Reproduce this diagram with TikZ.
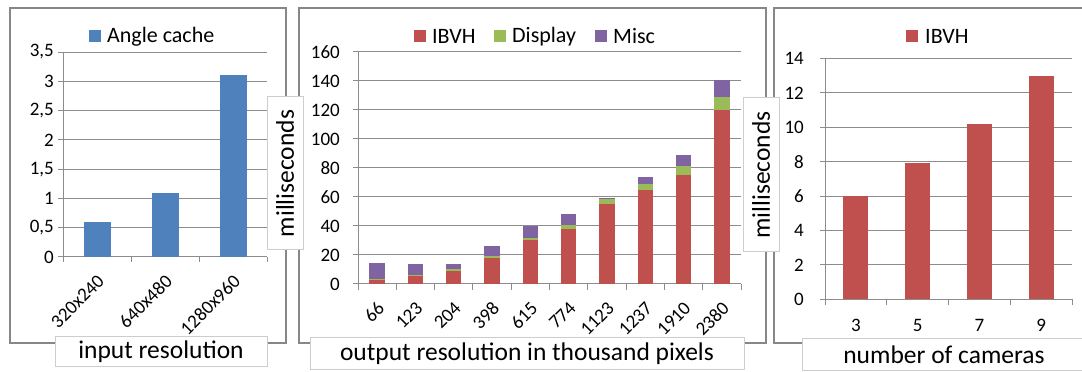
\documentclass[tikz,border=0pt]{standalone}
\usepackage{fontspec}
\setmainfont{Carlito}
\definecolor{angleblue}{RGB}{79,129,189}
\definecolor{ibvhred}{RGB}{192,80,77}
\definecolor{dispgreen}{RGB}{155,187,89}
\definecolor{miscpurple}{RGB}{128,100,162}
\definecolor{gridgray}{RGB}{140,140,140}
\definecolor{framegray}{RGB}{135,135,135}
\definecolor{boxgray}{RGB}{205,205,205}
\tikzset{
  gridline/.style={gridgray, line width=1pt},
  ticklab/.style={font=\fontsize{19}{19}\selectfont, inner sep=0pt},
  leglab/.style={font=\fontsize{22}{22}\selectfont, anchor=west, inner sep=0pt},
  key/.style={minimum size=12pt, inner sep=0pt},
  titlebox/.style={draw=boxgray, line width=1pt, fill=white, font=\fontsize{25.5}{25.5}\selectfont, inner sep=0pt},
}

\begin{document}
\begin{tikzpicture}[x=1pt,y=1pt]
\clip (0,0) rectangle (1082,372);
\fill [white] (0,0) rectangle (1082,372);
\draw [framegray, line width=1.2pt] (10,29) rectangle (286,364);
\draw [framegray, line width=1.2pt] (299,29) rectangle (766,364);
\draw [framegray, line width=1.2pt] (774,29) rectangle (1100,364);

\foreach \v/\t [count=\k] in {0/0,0.5/{0,5},1/1,1.5/{1,5},2/2,2.5/{2,5},3/3,3.5/{3,5}} {
  \draw [gridline] (58,115+58.57*\v) -- (267,115+58.57*\v);
  \node [ticklab, anchor=east] (lefty\k) at (54,115+58.57*\v) {\t};
}
\draw [gridline] (63,115) -- (63,320);
\foreach \i in {0,...,3} \draw [gridline] (63+68*\i,115) -- (63+68*\i,110);
\foreach \v/\t [count=\k] in {0.6/320x240,1.1/640x480,3.1/1280x960} {
  \fill [angleblue] (63+68*\k-34-13.5,115) rectangle (63+68*\k-34+13.5,115+58.57*\v);
  \node [ticklab, rotate=45, anchor=east] (leftx\k) at (63+68*\k-34+4,94) {\t};
}
\node [key, fill=angleblue] (keyangle) at (94.5,335.5) {};
\node [leglab] (labangle) at (107,335.5) {Angle cache};

\foreach \v [count=\k] in {0,20,...,160} {
  \draw [gridline] (353,88+1.45*\v) -- (741,88+1.45*\v);
  \node [ticklab, anchor=east] (midy\k) at (340,88+1.45*\v) {\v};
}
\draw [gridline] (358,88) -- (358,320);
\foreach \i in {0,...,10} \draw [gridline] (358+38.3*\i,88) -- (358+38.3*\i,82);
\foreach \t/\a/\b/\c [count=\k] in {66/3/0.5/11,123/5.5/1/7.5,204/9/1.2/3.4,398/18/1.5/7,615/30/2/8,774/38/2.5/7.5,1123/55/3.5/0.5,1237/65/4/5,1910/75/6.5/7.5,2380/120/9/12} {
  \pgfmathsetmacro\cx{358+38.3*\k-19.15}
  \pgfmathsetmacro\ya{88+1.45*\a}
  \pgfmathsetmacro\yb{\ya+1.45*\b}
  \pgfmathsetmacro\yc{\yb+1.45*\c}
  \fill [ibvhred] (\cx-7.7,88) rectangle (\cx+7.7,\ya);
  \fill [dispgreen] (\cx-7.7,\ya) rectangle (\cx+7.7,\yb);
  \fill [miscpurple] (\cx-7.7,\yb) rectangle (\cx+7.7,\yc);
  \node [ticklab, rotate=45, anchor=east] (midx\k) at (\cx+4,67) {\t};
}
\node [key, fill=ibvhred] (keyibvh) at (419.5,335.5) {};
\node [leglab] (labibvh) at (432,335.5) {IBVH};
\node [key, fill=dispgreen] (keydisp) at (499.5,335.5) {};
\node [leglab] (labdisp) at (512,335.5) {Display};
\node [key, fill=miscpurple] (keymisc) at (600.5,335.5) {};
\node [leglab] (labmisc) at (613,335.5) {Misc};

\foreach \v [count=\k] in {0,2,...,14} {
  \draw [gridline] (820,72.7+17.2*\v) -- (1072,72.7+17.2*\v);
  \node [ticklab, anchor=east] (righty\k) at (804,72.7+17.2*\v) {\v};
}
\draw [gridline] (825,72.7) -- (825,313.5);
\foreach \i in {0,...,4} \draw [gridline] (825+61.75*\i,72.7) -- (825+61.75*\i,66.7);
\foreach \v/\t [count=\k] in {6/3,7.9/5,10.2/7,13/9} {
  \fill [ibvhred] (825+61.75*\k-30.9-12.5,72.7) rectangle (825+61.75*\k-30.9+12.5,72.7+17.2*\v);
  \node [ticklab] (rightx\k) at (825+61.75*\k-30.9,47) {\t};
}
\node [key, fill=ibvhred] (keycams) at (912,335.5) {};
\node [leglab] (labcams) at (925,335.5) {IBVH};

\node [titlebox, rotate=90, minimum width=153pt, minimum height=36pt] (msleft) at (285,198.5) {milliseconds};
\node [titlebox, rotate=90, minimum width=154pt, minimum height=36pt] (msright) at (761,197) {milliseconds};
\node [titlebox, minimum width=212pt, minimum height=30pt] (titleleft) at (161,20) {input resolution};
\node [titlebox, minimum width=434pt, minimum height=32pt] (titlemid) at (527,18) {output resolution in thousand pixels};
\node [titlebox, minimum width=284pt, minimum height=32pt] (titleright) at (944,17) {number of cameras};
\end{tikzpicture}
\end{document}
